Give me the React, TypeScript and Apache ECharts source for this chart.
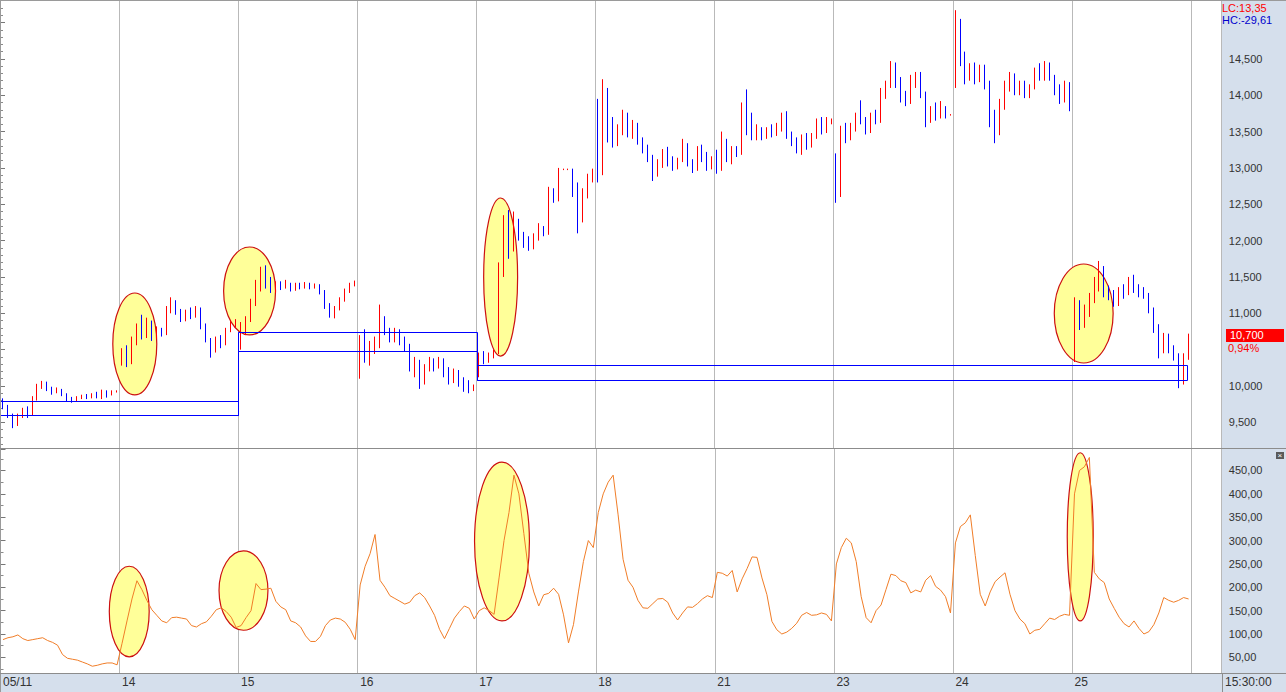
import React, { useEffect, useRef } from 'react';
import * as echarts from 'echarts';

const dayLabels = ['05/11', '14', '15', '16', '17', '18', '21', '23', '24', '25'];
const BARS_PER_DAY = 24;
const TOTAL_SLOTS = 246;

// candles: [open, close, low, high]
const bars0511 = [
  [9800, 9720, 9680, 9830], [9720, 9600, 9560, 9740], [9600, 9470, 9420, 9620], [9470, 9580, 9450, 9620],
  [9580, 9640, 9560, 9700], [9640, 9600, 9560, 9720], [9600, 9820, 9590, 9860], [9820, 9990, 9800, 10030],
  [9990, 10040, 9960, 10070], [10040, 9960, 9930, 10060], [9960, 9920, 9880, 9990], [9920, 9950, 9900, 9980],
  [9950, 9880, 9860, 9960], [9880, 9820, 9790, 9900], [9820, 9800, 9770, 9850], [9800, 9840, 9790, 9860],
  [9840, 9860, 9820, 9880], [9860, 9840, 9820, 9890], [9840, 9880, 9830, 9900], [9880, 9860, 9830, 9920],
  [9860, 9920, 9820, 9950], [9920, 9880, 9840, 9940], [9880, 9920, 9870, 9940], [9920, 9930, 9910, 9940],
];
const bars14 = [
  [10300, 10480, 10280, 10520], [10480, 10320, 10260, 10560], [10320, 10600, 10300, 10680], [10600, 10780, 10560, 10860],
  [10780, 10700, 10640, 10980], [10700, 10880, 10660, 10940], [10880, 10680, 10620, 10900], [10680, 10760, 10650, 10820],
  [10760, 10720, 10680, 10800], [10720, 11050, 10700, 11100], [11050, 11160, 11000, 11220], [11160, 11020, 10980, 11180],
  [11020, 10920, 10880, 11060], [10920, 11000, 10890, 11050], [11000, 10960, 10920, 11080], [10960, 11060, 10940, 11100],
  [11060, 10820, 10780, 11080], [10820, 10640, 10600, 10860], [10640, 10500, 10390, 10660], [10500, 10620, 10460, 10680],
  [10620, 10580, 10520, 10700], [10580, 10760, 10560, 10800], [10760, 10860, 10740, 10900], [10860, 10880, 10800, 10920],
];
const bars15 = [
  [10600, 10800, 10500, 10880], [10800, 10920, 10700, 10960], [10920, 11150, 10880, 11200], [11150, 11400, 11100, 11460],
  [11400, 11600, 11300, 11640], [11600, 11420, 11340, 11660], [11420, 11320, 11280, 11500], [11320, 11400, 11280, 11440],
  [11400, 11360, 11320, 11440], [11360, 11400, 11340, 11460], [11400, 11340, 11300, 11420], [11340, 11380, 11310, 11420],
  [11380, 11360, 11330, 11420], [11360, 11400, 11340, 11430], [11400, 11360, 11330, 11420], [11360, 11380, 11340, 11410],
  [11380, 11300, 11260, 11400], [11300, 11100, 11060, 11320], [11100, 11000, 10940, 11140], [11000, 11060, 10930, 11100],
  [11060, 11180, 11040, 11220], [11180, 11300, 11160, 11340], [11300, 11380, 11280, 11420], [11380, 11430, 11370, 11450],
];
const bars16 = [
  [10150, 10650, 10100, 10700], [10650, 10400, 10320, 10780], [10400, 10500, 10280, 10620], [10500, 10560, 10440, 10680],
  [10560, 10900, 10520, 11120], [10900, 10740, 10700, 10960], [10740, 10640, 10600, 10800], [10640, 10760, 10600, 10800],
  [10760, 10620, 10560, 10780], [10620, 10560, 10480, 10680], [10560, 10260, 10200, 10580], [10260, 10340, 10120, 10400],
  [10340, 10050, 9960, 10360], [10050, 10220, 10020, 10300], [10220, 10340, 10200, 10400], [10340, 10260, 10200, 10380],
  [10260, 10360, 10240, 10400], [10360, 10200, 10120, 10380], [10200, 10080, 10020, 10260], [10080, 10180, 10040, 10240],
  [10180, 10060, 9990, 10220], [10060, 9980, 9920, 10120], [9980, 9940, 9900, 10080], [9940, 10000, 9930, 10020],
];
const bars17 = [
  [10150, 10400, 10120, 10460], [10400, 10340, 10300, 10480], [10340, 10420, 10320, 10460], [10420, 10460, 10380, 10500],
  [10460, 11600, 10440, 11700], [11600, 12300, 11500, 12350], [12300, 11900, 11750, 12420], [11900, 12250, 11850, 12400],
  [12250, 12050, 12000, 12300], [12050, 11980, 11900, 12120], [11980, 11900, 11860, 12060], [11900, 12040, 11880, 12100],
  [12040, 12150, 12000, 12240], [12150, 12100, 12060, 12200], [12100, 12650, 12080, 12740], [12650, 12560, 12520, 12720],
  [12560, 12980, 12540, 13000], [12980, 12980, 12970, 12990], [12980, 12980, 12970, 12990], [12980, 12700, 12600, 12990],
  [12700, 12300, 12100, 12800], [12300, 12650, 12250, 12720], [12650, 12850, 12580, 12920], [12850, 12950, 12800, 12990],
];
const bars18 = [
  [13900, 12950, 12800, 13950], [12950, 14000, 12900, 14220], [14000, 13600, 13350, 14100], [13600, 13350, 13280, 13700],
  [13350, 13550, 13300, 13600], [13550, 13700, 13450, 13800], [13700, 13500, 13420, 13760], [13500, 13600, 13400, 13660],
  [13600, 13380, 13320, 13620], [13380, 13300, 13200, 13420], [13300, 13150, 13080, 13320], [13150, 12920, 12820, 13180],
  [12920, 13050, 12880, 13120], [13050, 13180, 13000, 13260], [13180, 13100, 13020, 13290], [13100, 13000, 12960, 13160],
  [13000, 13100, 12980, 13140], [13100, 13300, 13080, 13400], [13300, 13080, 13020, 13340], [13080, 12980, 12930, 13120],
  [12980, 13200, 12960, 13300], [13200, 13150, 13080, 13320], [13150, 13000, 12960, 13220], [13000, 13120, 12980, 13160],
];
const bars21 = [
  [13100, 12980, 12920, 13250], [12980, 13350, 12960, 13500], [13350, 13150, 13080, 13400], [13150, 13250, 13050, 13300],
  [13250, 13200, 13150, 13300], [13200, 13850, 13180, 13900], [13850, 13700, 13450, 14080], [13700, 13450, 13380, 13760],
  [13450, 13520, 13380, 13600], [13520, 13420, 13380, 13560], [13420, 13500, 13400, 13560], [13500, 13460, 13420, 13600],
  [13460, 13540, 13440, 13620], [13540, 13700, 13500, 13760], [13700, 13450, 13400, 13780], [13450, 13350, 13300, 13500],
  [13350, 13250, 13200, 13420], [13250, 13400, 13180, 13460], [13400, 13300, 13250, 13480], [13300, 13420, 13280, 13480],
  [13420, 13600, 13400, 13680], [13600, 13500, 13460, 13700], [13500, 13620, 13480, 13700], [13620, 13650, 13600, 13680],
];
const bars23 = [
  [13150, 12650, 12520, 13200], [12650, 13500, 12600, 13580], [13500, 13400, 13340, 13620], [13400, 13550, 13380, 13620],
  [13550, 13700, 13500, 13760], [13700, 13650, 13600, 13930], [13650, 13500, 13460, 13700], [13500, 13720, 13480, 13760],
  [13720, 13650, 13600, 13800], [13650, 14000, 13620, 14100], [14000, 14150, 13950, 14200], [14150, 14400, 14100, 14470],
  [14400, 14200, 14100, 14450], [14200, 13950, 13900, 14250], [13950, 13900, 13850, 14060], [13900, 14200, 13880, 14280],
  [14200, 14250, 14100, 14320], [14250, 14000, 13960, 14320], [14000, 13650, 13560, 14050], [13650, 13800, 13620, 13850],
  [13800, 13700, 13650, 13900], [13700, 13800, 13680, 13920], [13800, 13720, 13680, 13850], [13720, 13730, 13720, 13740],
];
const bars24 = [
  [14200, 15000, 14100, 15170], [15000, 14500, 14400, 15050], [14500, 14250, 14150, 14600], [14250, 14400, 14200, 14440],
  [14400, 14220, 14150, 14450], [14220, 14380, 14180, 14420], [14380, 14150, 14080, 14420], [14150, 13700, 13560, 14200],
  [13700, 13500, 13340, 13800], [13500, 13850, 13450, 13950], [13850, 14100, 13800, 14200], [14100, 14250, 14050, 14320],
  [14250, 14050, 14000, 14300], [14050, 14150, 14000, 14200], [14150, 14000, 13960, 14200], [14000, 14100, 13960, 14150],
  [14100, 14300, 14080, 14380], [14300, 14250, 14200, 14440], [14250, 14420, 14200, 14470], [14420, 14250, 14200, 14450],
  [14250, 14100, 14000, 14280], [14100, 13950, 13880, 14150], [13950, 14150, 13900, 14200], [14150, 13850, 13780, 14180],
];
const bars25 = [
  [10400, 10900, 10330, 11220], [10900, 10850, 10770, 11180], [10850, 11050, 10800, 11120], [11050, 11200, 10950, 11280],
  [11200, 11450, 11140, 11500], [11450, 11600, 11300, 11720], [11600, 11300, 11220, 11650], [11300, 11260, 11180, 11380],
  [11260, 11150, 11090, 11320], [11150, 11300, 11100, 11360], [11300, 11280, 11200, 11400], [11280, 11450, 11250, 11500],
  [11450, 11350, 11280, 11530], [11350, 11300, 11220, 11400], [11300, 11250, 11200, 11360], [11250, 11050, 11000, 11280],
  [11050, 10800, 10730, 11080], [10800, 10550, 10380, 10850], [10550, 10680, 10450, 10730], [10680, 10500, 10450, 10720],
  [10500, 10420, 10350, 10560], [10420, 10050, 9970, 10450], [10050, 10400, 10020, 10450], [10400, 10700, 10360, 10720],
];
const priceDays = [bars0511, bars14, bars15, bars16, bars17, bars18, bars21, bars23, bars24, bars25];

// lower indicator
const ind0511 = [88, 92, 94, 98, 90, 86, 88, 90, 92, 86, 82, 76, 56, 48, 46, 44, 40, 36, 31, 33, 36, 38, 38, 34];
const ind14 = [80, 128, 175, 214, 195, 172, 152, 140, 128, 124, 135, 136, 134, 132, 118, 115, 122, 126, 138, 152, 156, 148, 136, 114];
const ind15 = [118, 135, 150, 208, 195, 196, 198, 170, 158, 152, 128, 124, 115, 96, 84, 84, 95, 118, 130, 134, 132, 125, 110, 88];
const ind16 = [205, 245, 272, 313, 215, 200, 182, 176, 170, 164, 168, 182, 188, 178, 160, 140, 110, 90, 112, 134, 148, 160, 155, 132];
const ind17 = [150, 156, 150, 142, 220, 300, 360, 440, 400, 315, 230, 190, 160, 184, 187, 198, 185, 141, 81, 120, 190, 255, 300, 285];
const ind18 = [360, 400, 425, 440, 355, 260, 215, 200, 172, 156, 155, 165, 175, 176, 168, 145, 130, 145, 158, 157, 165, 175, 182, 178];
const ind21 = [232, 230, 224, 236, 190, 218, 240, 265, 264, 220, 184, 127, 109, 100, 104, 112, 123, 140, 146, 140, 141, 145, 142, 128];
const ind23 = [250, 285, 305, 295, 255, 180, 135, 124, 150, 162, 195, 228, 225, 214, 210, 188, 194, 190, 215, 225, 202, 194, 180, 145];
const ind24 = [295, 330, 338, 355, 268, 185, 160, 190, 212, 222, 231, 185, 150, 132, 122, 100, 108, 110, 122, 134, 131, 138, 142, 140];
const ind25 = [400, 450, 458, 478, 232, 218, 210, 175, 155, 136, 122, 115, 128, 112, 100, 105, 120, 145, 178, 172, 168, 172, 178, 175];
const indicatorDays = [ind0511, ind14, ind15, ind16, ind17, ind18, ind21, ind23, ind24, ind25];

// annotations in data units: [barPos, value, radiusBars, radiusValue]
const priceEllipses = [
  [27.16, 10578, 4.43, 701],
  [50.29, 11307, 5.23, 605],
  [100.88, 11499, 3.42, 1087],
  [218.37, 10997, 5.93, 681],
];
const indicatorEllipses = [
  [25.95, 148, 4.02, 97],
  [48.98, 193, 4.93, 85],
  [101.09, 298, 5.53, 170],
  [217.66, 308, 2.62, 180],
];
// boxes: [barFrom, barTo, low, high]
const boxes = [
  [0, 48, 9600, 9800],
  [48, 96.2, 10480, 10745],
  [96.2, 239.2, 10080, 10290],
  [48, 48, 9600, 10480],
  [96.2, 96.2, 10080, 10480],
];

const PRICE_MIN = 9147;
const PRICE_MAX = 15310;
const IND_MIN = 16.5;
const IND_MAX = 496;
const hiddenPriceLabels = [10500, 15000];
const lcText = 'LC:13,35';
const hcText = 'HC:-29,61';
const changeText = '0,94%';
const timeText = '15:30:00';

const FONT = "'Liberation Sans', Arial, sans-serif";
const BAND = '#d5dfec';

export default function App() {
  const ref = useRef<HTMLDivElement>(null);
  useEffect(() => {
    const el = ref.current as HTMLDivElement;
    const chart = echarts.init(el, undefined, { renderer: 'svg' });
    const categories = Array.from({ length: TOTAL_SLOTS }, (_, i) => String(i));
    const candles = priceDays.flat();
    const indicator = indicatorDays.flat();
    const dataLen = priceDays.length * BARS_PER_DAY;
    const pxPerDay = 119.3;
    const gridLeft = -2;
    const gridW = (TOTAL_SLOTS * pxPerDay) / BARS_PER_DAY;
    const dayStart = (i: number) => i % BARS_PER_DAY === 0;

    const ellipseRender = (params: any, api: any) => {
      const c = api.coord([api.value(0), api.value(1)]);
      const s = api.size([api.value(2), api.value(3)]);
      return {
        type: 'ellipse',
        shape: { cx: c[0], cy: c[1], rx: s[0], ry: s[1] },
        style: { fill: '#ffff99', stroke: '#cc1010', lineWidth: 1.2 },
      };
    };
    const boxRender = (params: any, api: any) => {
      const p0 = api.coord([api.value(0), api.value(3)]);
      const p1 = api.coord([api.value(1), api.value(2)]);
      const x0 = Math.round(p0[0]) + 0.5;
      const x1 = Math.round(p1[0]) + 0.5;
      const y0 = Math.round(p0[1]) + 0.5;
      const y1 = Math.round(p1[1]) + 0.5;
      return {
        type: 'rect',
        shape: { x: x0, y: y0, width: x1 - x0, height: y1 - y0 },
        style: { fill: 'none', stroke: '#0000ff', lineWidth: 1 },
      };
    };

    const catAxisBase = {
      type: 'category',
      data: categories,
      boundaryGap: true,
      axisLine: { show: true, lineStyle: { color: '#8c8c8c', width: 1 } },
      axisTick: { show: false },
      splitLine: { show: true, interval: (i: number) => dayStart(i), lineStyle: { color: '#b9b9b9', width: 1 } },
    };

    const option: any = {
      animation: false,
      backgroundColor: 'transparent',
      grid: [
        { left: gridLeft, top: 0, width: gridW, height: 448 },
        { left: gridLeft, top: 449, width: gridW, height: 224 },
      ],
      xAxis: [
        { ...catAxisBase, gridIndex: 0, axisLabel: { show: false } },
        {
          ...catAxisBase,
          gridIndex: 1,
          axisLabel: {
            show: true,
            interval: (i: number) => dayStart(i) && i < dataLen,
            formatter: (v: string, i: number) => (i % BARS_PER_DAY === 0 ? dayLabels[i / BARS_PER_DAY] || '' : ''),
            align: 'left',
            margin: 3,
            color: '#333',
            fontSize: 12,
            fontFamily: FONT,
          },
        },
        { type: 'value', gridIndex: 0, min: 0, max: TOTAL_SLOTS, show: false, position: 'top' },
        { type: 'value', gridIndex: 1, min: 0, max: TOTAL_SLOTS, show: false, position: 'top' },
      ],
      yAxis: [
        {
          type: 'value',
          gridIndex: 0,
          position: 'right',
          offset: 1,
          min: PRICE_MIN,
          max: PRICE_MAX,
          splitNumber: 12,
          axisLine: { show: true, lineStyle: { color: '#8c8c8c' } },
          axisTick: { show: true, length: 5, lineStyle: { color: '#777' } },
          minorTick: { show: true, splitNumber: 5, length: 3, lineStyle: { color: '#8a8a8a' } },
          splitLine: { show: false },
          axisLabel: {
            showMinLabel: false,
            showMaxLabel: false,
            margin: 7,
            color: '#333',
            fontSize: 11,
            fontFamily: FONT,
            formatter: (v: number) =>
              v % 500 === 0 && hiddenPriceLabels.indexOf(v) < 0 ? v.toLocaleString('en-US') : '',
          },
        },
        {
          type: 'value',
          gridIndex: 1,
          position: 'right',
          offset: 1,
          min: IND_MIN,
          max: IND_MAX,
          splitNumber: 10,
          axisLine: { show: true, lineStyle: { color: '#8c8c8c' } },
          axisTick: { show: true, length: 5, lineStyle: { color: '#777' } },
          minorTick: { show: true, splitNumber: 2, length: 3, lineStyle: { color: '#8a8a8a' } },
          splitLine: { show: false },
          axisLabel: {
            showMinLabel: false,
            showMaxLabel: false,
            margin: 7,
            color: '#333',
            fontSize: 11,
            fontFamily: FONT,
            formatter: (v: number) => (v % 50 === 0 ? v.toFixed(2).replace('.', ',') : ''),
          },
        },
      ],
      series: [
        {
          type: 'custom',
          name: 'priceMarks',
          xAxisIndex: 2,
          yAxisIndex: 0,
          z: 1,
          silent: true,
          clip: false,
          data: priceEllipses,
          encode: { x: 0, y: 1 },
          renderItem: ellipseRender,
        },
        {
          type: 'candlestick',
          xAxisIndex: 0,
          yAxisIndex: 0,
          z: 3,
          barWidth: 1,
          data: candles,
          itemStyle: {
            color: '#ff0000',
            color0: '#0000ff',
            borderColor: '#ff0000',
            borderColor0: '#0000ff',
            borderWidth: 1,
          },
        },
        {
          type: 'custom',
          name: 'boxes',
          xAxisIndex: 2,
          yAxisIndex: 0,
          z: 4,
          silent: true,
          clip: false,
          data: boxes,
          encode: { x: [0, 1], y: [2, 3] },
          renderItem: boxRender,
        },
        {
          type: 'custom',
          name: 'indMarks',
          xAxisIndex: 3,
          yAxisIndex: 1,
          z: 1,
          silent: true,
          clip: false,
          data: indicatorEllipses,
          encode: { x: 0, y: 1 },
          renderItem: ellipseRender,
        },
        {
          type: 'line',
          xAxisIndex: 1,
          yAxisIndex: 1,
          z: 3,
          data: indicator,
          showSymbol: false,
          symbol: 'none',
          lineStyle: { color: '#f07d28', width: 1 },
        },
      ],
    };
    chart.setOption(option);

    const lastClose = candles[candles.length - 1][1];
    const yLast = chart.convertToPixel({ yAxisIndex: 0 }, lastClose) as number;
    const txt = (text: string, x: number, y: number, fill: string, size: number) => ({
      type: 'text',
      x,
      y,
      z: 50,
      style: { text, fill, fontSize: size, fontFamily: FONT },
    });
    chart.setOption({
      graphic: [
        { type: 'line', z: 40, shape: { x1: 0, y1: 0.5, x2: 1286, y2: 0.5 }, style: { stroke: '#9a9a9a', lineWidth: 1 } },
        { type: 'line', z: 40, shape: { x1: 0.5, y1: 0, x2: 0.5, y2: 692 }, style: { stroke: '#9a9a9a', lineWidth: 1 } },
        { type: 'line', z: 40, shape: { x1: 0, y1: 448.5, x2: 1286, y2: 448.5 }, style: { stroke: '#8c8c8c', lineWidth: 1 } },
        { type: 'line', z: 40, shape: { x1: 0, y1: 673.5, x2: 1286, y2: 673.5 }, style: { stroke: '#8c8c8c', lineWidth: 1 } },
        { type: 'line', z: 40, shape: { x1: 1222.5, y1: 673, x2: 1222.5, y2: 692 }, style: { stroke: '#8c8c8c', lineWidth: 1 } },
        txt(lcText, 1222, 2, '#ff0000', 11),
        txt(hcText, 1222, 14, '#0000cc', 11),
        txt(timeText, 1225, 676, '#333', 12),
        {
          type: 'rect',
          z: 50,
          shape: { x: 1226, y: Math.round(yLast) - 6, width: 58, height: 13 },
          style: { fill: '#ff0000' },
        },
        txt(lastClose.toLocaleString('en-US'), 1230, Math.round(yLast) - 6, '#ffffff', 11),
        txt(changeText, 1228, Math.round(yLast) + 7, '#ff0000', 11),
        { type: 'rect', z: 50, shape: { x: 1276, y: 452, width: 8, height: 7 }, style: { fill: '#5a5a5a' } },
        txt('×', 1277.5, 451, '#ffffff', 8),
      ],
    });

    return () => chart.dispose();
  }, []);
  return (
    <div
      ref={ref}
      style={{
        position: 'fixed',
        left: 0,
        top: 0,
        width: 1286,
        height: 692,
        background: `linear-gradient(${BAND},${BAND}) right top / 64px 100% no-repeat, linear-gradient(${BAND},${BAND}) left bottom / 100% 19px no-repeat, #ffffff`,
      }}
    />
  );
}
